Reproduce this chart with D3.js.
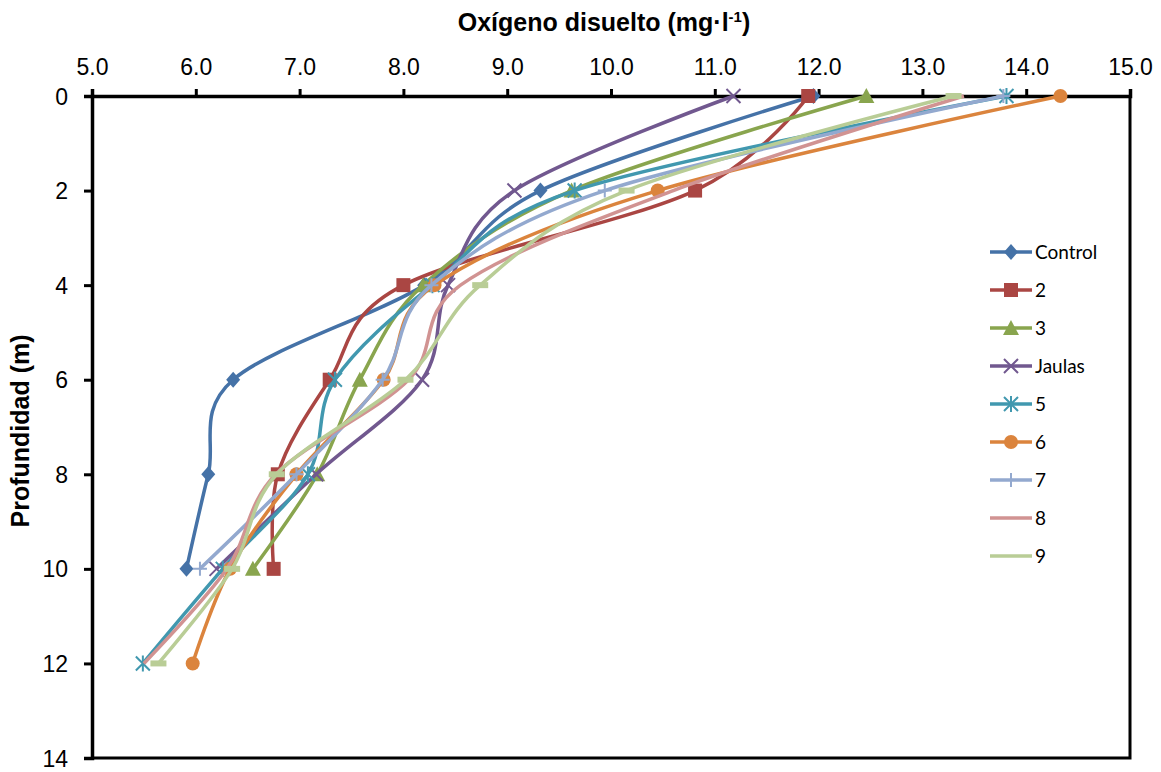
<!DOCTYPE html>
<html>
<head>
<meta charset="utf-8">
<script src="https://cdn.jsdelivr.net/npm/d3@7"></script>
<style>
  body { margin: 0; background: #fff; }
  svg { display: block; }
  .tick text { font-family: Arial, "Liberation Sans", sans-serif; font-size: 23px; fill: #000; }
</style>
</head>
<body>
<div id="chart"></div>
<script>
// depth levels (m)
const depths = [0, 2, 4, 6, 8, 10, 12];

const seriesNames = ["Control", "2", "3", "Jaulas", "5", "6", "7", "8", "9"];

// dissolved oxygen (mg/l) per depth, null = no reading
const controlVals = [11.95, 9.32, 8.2, 6.36, 6.12, 5.91, null];
const s2Vals = [11.9, 10.81, 8.0, 7.29, 6.79, 6.75, null];
const s3Vals = [12.46, 9.62, 8.19, 7.58, 7.17, 6.55, null];
const jaulasVals = [11.18, 9.07, 8.43, 8.18, 7.16, 6.2, null];
const s5Vals = [13.81, 9.65, 8.28, 7.34, 7.08, 6.26, 5.49];
const s6Vals = [14.33, 10.45, 8.3, 7.81, 6.97, 6.33, 5.97];
const s7Vals = [13.78, 9.94, 8.27, 7.8, 6.97, 6.04, null];
const s8Vals = [13.4, 10.6, 8.55, 8.05, 6.77, 6.3, 5.5];
const s9Vals = [13.3, 10.15, 8.74, 8.02, 6.78, 6.35, 5.64];

const xTicks = [5, 6, 7, 8, 9, 10, 11, 12, 13, 14, 15];
const yTicks = [0, 2, 4, 6, 8, 10, 12, 14];

const colors = ["#4572A7", "#AA4643", "#89A54E", "#71588F", "#4198AF", "#DB843D", "#93A9CF", "#D19392", "#B9CD96"];
const markers = ["diamond", "square", "triangle", "x", "star", "circle", "plus", "none", "dash"];

const allVals = [controlVals, s2Vals, s3Vals, jaulasVals, s5Vals, s6Vals, s7Vals, s8Vals, s9Vals];

const W = 1161, H = 772;
const margin = { top: 96, right: 31, bottom: 14, left: 92 };
const innerW = W - margin.left - margin.right;
const innerH = H - margin.top - margin.bottom;

const svg = d3.select("#chart").append("svg").attr("width", W).attr("height", H);
const g = svg.append("g").attr("transform", `translate(${margin.left},${margin.top})`);

const x = d3.scaleLinear().domain([5, 15]).range([0, innerW]);
const y = d3.scaleLinear().domain([0, 14]).range([0, innerH]);

// plot border (right + bottom)
g.append("path")
  .attr("d", `M${innerW},0V${innerH}H0`)
  .attr("fill", "none").attr("stroke", "#000").attr("stroke-width", 3);

const xAxis = g.append("g")
  .call(d3.axisTop(x).tickValues(xTicks).tickFormat(d3.format(".1f")).tickSize(7).tickPadding(14));
const yAxis = g.append("g")
  .call(d3.axisLeft(y).tickValues(yTicks).tickSize(8).tickPadding(16));
[xAxis, yAxis].forEach((a) => {
  a.select(".domain").attr("stroke", "#000").attr("stroke-width", 3.5);
  a.selectAll(".tick line").attr("stroke", "#000").attr("stroke-width", 3);
});
xAxis.selectAll(".tick text").attr("dy", "0");
yAxis.selectAll(".tick text").attr("dy", "0.35em");

const line = d3.line()
  .defined((d) => d.v != null)
  .x((d) => x(d.v))
  .y((d) => y(d.depth))
  .curve(d3.curveCardinal.tension(0));

function drawMarker(sel, type, color) {
  const s = 7;
  if (type === "diamond") {
    sel.append("path").attr("d", `M0,${-s - 1}L${s},0L0,${s + 1}L${-s},0Z`).attr("fill", color);
  } else if (type === "square") {
    sel.append("rect").attr("x", -s).attr("y", -s).attr("width", 2 * s).attr("height", 2 * s).attr("fill", color);
  } else if (type === "triangle") {
    sel.append("path").attr("d", `M0,${-s - 1}L${s + 1},${s}L${-s - 1},${s}Z`).attr("fill", color);
  } else if (type === "circle") {
    sel.append("circle").attr("r", s).attr("fill", color);
  } else if (type === "x") {
    sel.append("path").attr("d", `M${-s},${-s}L${s},${s}M${-s},${s}L${s},${-s}`)
      .attr("stroke", color).attr("stroke-width", 2);
  } else if (type === "star") {
    sel.append("path").attr("d", `M${-s},${-s}L${s},${s}M${-s},${s}L${s},${-s}M0,${-s - 1}V${s + 1}`)
      .attr("stroke", color).attr("stroke-width", 2);
  } else if (type === "plus") {
    sel.append("path").attr("d", `M${-s},0H${s}M0,${-s}V${s}`)
      .attr("stroke", color).attr("stroke-width", 2);
  } else if (type === "dash") {
    sel.append("rect").attr("x", -s - 1).attr("y", -3).attr("width", 2 * s + 2).attr("height", 6).attr("fill", color);
  }
}

seriesNames.forEach((name, i) => {
  const pts = depths.map((depth, j) => ({ depth, v: allVals[i][j] }));
  const sg = g.append("g");
  sg.append("path")
    .datum(pts)
    .attr("d", line)
    .attr("fill", "none")
    .attr("stroke", colors[i])
    .attr("stroke-width", 3.5)
    .attr("stroke-linejoin", "round");
  sg.selectAll(".m")
    .data(pts.filter((d) => d.v != null))
    .join("g")
    .attr("transform", (d) => `translate(${x(d.v)},${y(d.depth)})`)
    .each(function () { drawMarker(d3.select(this), markers[i], colors[i]); });
});

// legend
const legend = svg.append("g").attr("transform", "translate(990,252)");
seriesNames.forEach((name, i) => {
  const row = legend.append("g").attr("transform", `translate(0,${i * 38})`);
  row.append("line").attr("x1", 0).attr("x2", 42).attr("stroke", colors[i]).attr("stroke-width", 3.5);
  const m = row.append("g").attr("transform", "translate(21,0)");
  drawMarker(m, markers[i] === "dash" ? "none" : markers[i], colors[i]);
  row.append("text")
    .attr("x", 45).attr("dy", "0.35em")
    .style("font-family", "Lato, 'Open Sans', sans-serif")
    .style("font-size", "19px")
    .attr("fill", "#000")
    .text(name);
});

// axis titles
const xt = svg.append("text")
  .attr("x", 604).attr("y", 31)
  .attr("text-anchor", "middle")
  .style("font-family", "Arial, 'Liberation Sans', sans-serif")
  .style("font-size", "25px").style("font-weight", "bold");
xt.append("tspan").text("Oxígeno disuelto (mg·l");
xt.append("tspan").attr("dy", -9).style("font-size", "15px").text("-1");
xt.append("tspan").attr("dy", 9).text(")");

svg.append("text")
  .attr("transform", `translate(29,431) rotate(-90)`)
  .attr("text-anchor", "middle")
  .style("font-family", "Arial, 'Liberation Sans', sans-serif")
  .style("font-size", "25px").style("font-weight", "bold")
  .text("Profundidad (m)");
</script>
</body>
</html>
